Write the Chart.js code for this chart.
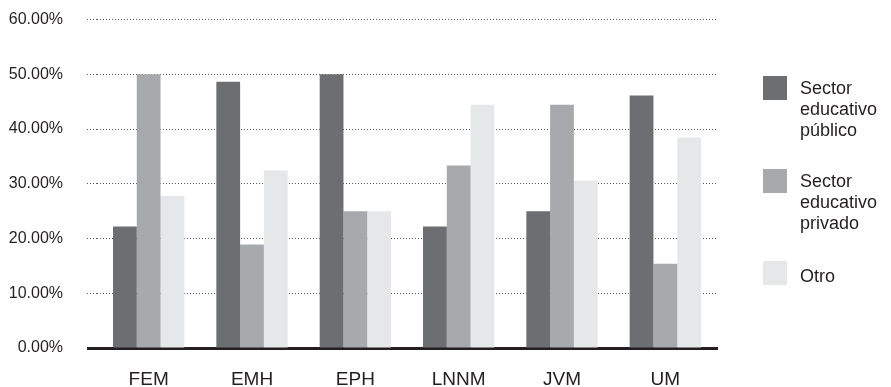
<!DOCTYPE html>
<html>
<head>
<meta charset="utf-8">
<script src="https://cdn.jsdelivr.net/npm/chart.js@4/dist/chart.umd.min.js"></script>
<style>
  html, body { margin: 0; padding: 0; background: #fff; }
  #wrap { position: relative; width: 891px; height: 387px; overflow: hidden; }
  #grafica { position: absolute; left: 0; top: -14px; }
  #leyenda { position: absolute; left: 763px; top: 0; font-family: "Liberation Sans", Arial, sans-serif;
             font-size: 18px; line-height: 21px; color: #231f20; }
  .item { position: absolute; left: 0; width: 128px; }
  .caja { position: absolute; left: 0; top: 0; width: 24px; height: 24px; }
  .texto { position: absolute; left: 37px; white-space: nowrap; }
</style>
</head>
<body>
<div id="wrap">
  <canvas id="grafica" width="891" height="401"></canvas>
  <div id="leyenda"></div>
</div>
<script>
// categorías y porcentajes por tipo de institución
const categorias = ["FEM", "EMH", "EPH", "LNNM", "JVM", "UM"];
const sectorPublico = [22.22, 48.65, 50.00, 22.22, 25.00, 46.15];
const sectorPrivado = [50.00, 18.92, 25.00, 33.33, 44.44, 15.38];
const otro = [27.78, 32.43, 25.00, 44.44, 30.56, 38.46];
const etiquetasSerie = [["Sector", "educativo", "público"], ["Sector", "educativo", "privado"], ["Otro"]];
const ticksY = [0, 10, 20, 30, 40, 50, 60];

const colores = ["#6d6e71", "#a7a9ac", "#e6e7e8"];
const fuente = "'Liberation Sans', Arial, Helvetica, sans-serif";
const negro = "#231f20";
const gris = "#58595b";

const series = [sectorPublico, sectorPrivado, otro];
const esCero = (ctx) => ctx.tick && ctx.tick.value === 0;

new Chart(document.getElementById("grafica"), {
    type: "bar",
    data: {
        labels: categorias,
        datasets: series.map((valores, i) => ({
            label: etiquetasSerie[i].join(" "),
            data: valores,
            backgroundColor: colores[i],
            borderWidth: 0,
            categoryPercentage: 0.69,
            barPercentage: 1.0
        }))
    },
    options: {
        responsive: false,
        animation: false,
        layout: { padding: { top: 7, right: 174, left: 8, bottom: 0 } },
        plugins: {
            legend: { display: false },
            tooltip: { enabled: false }
        },
        scales: {
            x: {
                afterFit: (eje) => { eje.height = 39; },
                grid: { display: false, drawTicks: false },
                border: { display: true, color: negro, width: 3 },
                ticks: {
                    color: negro,
                    padding: 22,
                    font: { family: fuente, size: 19, lineHeight: 1 }
                }
            },
            y: {
                min: 0,
                max: 60,
                afterBuildTicks: (eje) => { eje.ticks = ticksY.map(v => ({ value: v })); },
                afterFit: (eje) => { eje.width = 89; },
                border: { display: false, dash: [1, 2] },
                grid: {
                    drawTicks: true,
                    tickLength: 10,
                    color: (ctx) => esCero(ctx) ? "rgba(0,0,0,0)" : gris,
                    lineWidth: 1,
                    tickColor: (ctx) => esCero(ctx) ? negro : gris,
                    tickWidth: (ctx) => esCero(ctx) ? 3 : 1,
                    tickBorderDash: (ctx) => esCero(ctx) ? [] : [1, 2]
                },
                ticks: {
                    color: negro,
                    padding: 24,
                    font: { family: fuente, size: 16 },
                    callback: (v) => v.toFixed(2) + "%"
                }
            }
        }
    }
});

// leyenda a la derecha, con textos en varias líneas
const posicionesLeyenda = [76, 169, 261];
const desplazamientoTexto = [2, 2, 5];
const leyenda = document.getElementById("leyenda");
etiquetasSerie.forEach((lineas, i) => {
    const item = document.createElement("div");
    item.className = "item";
    item.style.top = posicionesLeyenda[i] + "px";
    const caja = document.createElement("div");
    caja.className = "caja";
    caja.style.background = colores[i];
    const texto = document.createElement("div");
    texto.className = "texto";
    texto.style.top = desplazamientoTexto[i] + "px";
    texto.innerHTML = lineas.join("<br>");
    item.appendChild(caja);
    item.appendChild(texto);
    leyenda.appendChild(item);
});
</script>
</body>
</html>
